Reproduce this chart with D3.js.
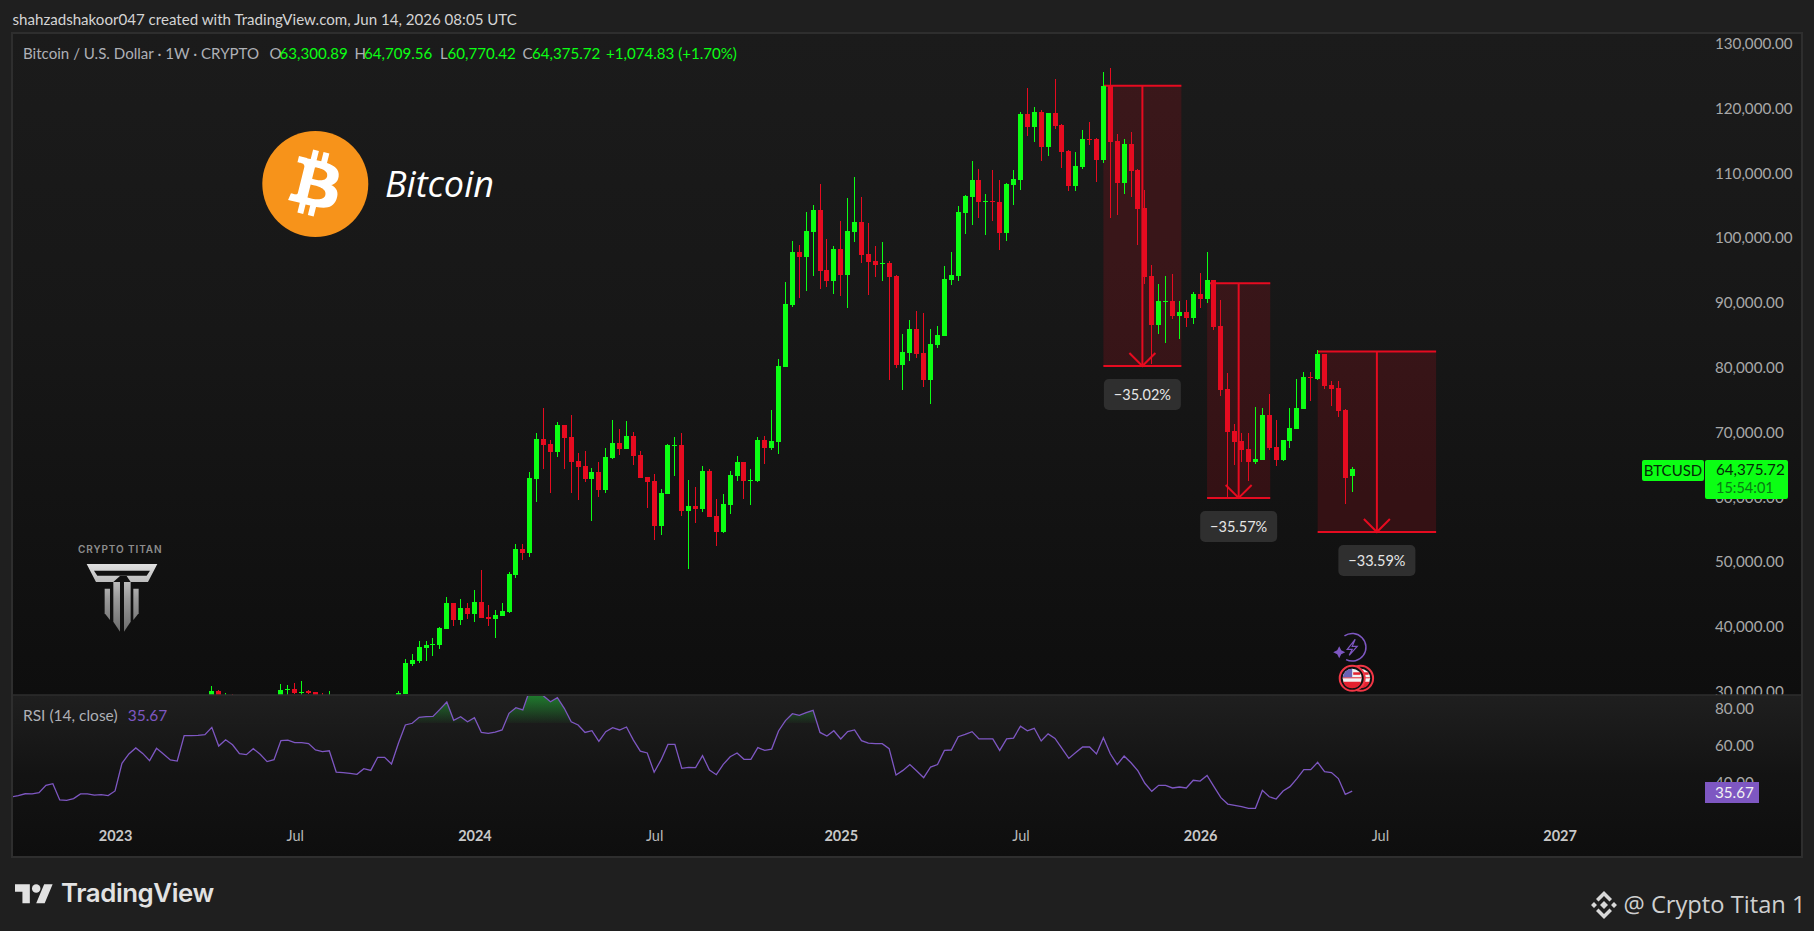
<!DOCTYPE html>
<html>
<head>
<meta charset="utf-8">
<title>BTCUSD weekly</title>
<script src="https://cdn.jsdelivr.net/npm/d3@7"></script>
<style>
  html, body { margin: 0; padding: 0; background: #1f1f1f; }
  svg { display: block; }
  text { font-family: Lato, "Noto Sans", sans-serif; }
</style>
</head>
<body>
<svg id="chart" width="1814" height="931"></svg>
<script>
//DATA ---------------------------------------------------------------------------------
// weekly candles in thousand USD, one entry per week starting at firstCandleWeek
const firstCandleWeek = "2023-04-10";
const opens = [
  28.3,30.1,27.6,28.4,28.0,26.9,27.1,26.8,27.2,25.9,
  26.3,30.3,30.4,29.9,30.1,29.9,29.3,29.0,29.3,26.1,26.1,25.9,25.8,26.5,26.5,26.3,27.9,27.1,
  29.7,34.3,34.7,36.7,37.2,37.2,39.7,43.7,41.1,42.9,
  42.0,43.8,41.5,41.2,41.7,42.3,48.0,52.0,51.4,62.8,
  69.0,68.2,67.0,71.2,69.3,65.6,64.8,62.8,63.9,61.1,
  66.1,68.4,67.5,69.5,66.5,63.1,62.5,55.6,60.5,67.9,
  68.1,57.9,58.7,58.2,64.1,57.1,54.6,58.8,63.3,65.4,
  62.5,62.5,68.8,67.6,68.5,80.1,89.7,97.8,97.1,100.9,
  104.3,95.1,93.4,98.3,94.3,100.9,102.5,97.5,96.5,96.0,
  96.1,94.1,80.4,82.3,86.0,82.3,78.1,83.5,84.9,93.5,
  94.1,103.9,106.3,108.9,105.6,105.7,105.6,100.8,108.2,109.0,
  119.1,117.1,119.5,114.1,119.3,117.4,113.4,108.0,111.0,115.3,
  115.3,112.0,123.5,115.0,108.5,114.5,110.5,104.6,94.2,86.6,
  90.1,90.3,88.0,88.6,87.7,91.4,90.6,93.5,86.4,76.7,
  70.2,68.7,67.4,65.4,65.8,72.7,67.7,65.8,68.7,70.5,
  73.6,78.6,78.2,82.1,77.3,76.9,73.5,63.30
];
const highs = [
  30.9,30.3,29.8,29.6,28.3,27.6,27.5,28.4,27.4,27.1,
  31.2,31.0,31.4,31.7,30.3,29.9,29.8,30.1,29.4,26.8,28.1,26.2,26.8,27.4,27.0,28.6,28.6,30.1,
  35.0,35.8,37.8,37.8,38.3,40.0,44.6,43.7,44.3,43.7,
  45.7,48.8,43.4,42.6,43.7,48.5,52.8,52.8,63.9,69.9,
  73.8,68.8,71.6,71.2,72.7,66.8,67.1,64.5,65.4,67.6,
  71.9,70.5,71.8,70.1,67.1,63.1,63.6,61.3,68.2,69.3,
  69.9,62.7,61.6,64.8,64.4,59.7,60.5,64.1,66.4,65.4,
  64.4,69.3,69.5,73.5,81.3,93.2,99.5,98.9,104.0,105.1,
  108.3,99.9,98.8,102.6,106.2,109.4,106.3,102.3,98.8,99.4,
  96.5,94.3,85.2,87.4,88.7,88.4,86.0,86.4,95.7,97.8,
  104.9,106.6,111.9,110.7,106.8,110.5,108.9,108.5,110.5,119.5,
  123.2,120.2,119.8,119.3,124.5,117.6,113.6,113.3,116.7,117.9,
  115.4,125.6,126.2,116.1,115.3,116.4,110.7,107.4,95.8,92.9,
  94.2,94.5,90.3,90.4,91.7,94.6,97.9,93.5,90.4,79.2,
  71.3,69.9,69.9,73.9,73.8,75.9,71.9,68.8,73.8,78.2,
  79.3,79.3,82.7,82.1,77.9,77.9,73.6,64.71
];
const lows = [
  27.8,27.1,27.0,27.7,26.0,26.3,25.9,26.6,25.4,24.8,
  26.3,29.4,29.65,29.4,29.6,29.0,28.6,28.9,25.2,25.8,25.4,25.4,25.1,26.4,26.0,26.0,26.6,26.9,
  29.7,34.0,34.5,34.7,35.5,36.6,39.7,40.1,40.3,41.2,
  40.8,41.4,40.1,38.3,41.7,42.1,47.5,50.3,50.8,59.3,
  64.4,60.7,66.2,64.4,60.7,59.6,62.4,56.3,60.0,60.7,
  65.9,66.5,67.5,65.0,63.0,58.3,53.4,54.2,60.5,63.3,
  57.1,48.9,56.0,57.7,57.0,52.5,54.5,57.4,62.5,59.7,
  58.8,62.4,65.1,67.3,66.7,80.1,89.4,90.7,91.8,94.1,
  92.1,92.4,91.4,91.1,89.2,99.4,96.1,91.2,94.0,93.4,
  78.1,80.0,76.5,81.0,81.5,77.0,74.4,83.0,84.9,92.8,
  93.4,100.6,102.0,103.1,100.5,102.6,98.2,99.5,105.1,107.4,
  115.8,114.8,111.9,112.7,116.8,110.8,107.3,107.3,110.7,114.4,
  108.7,111.6,103.1,103.6,106.8,106.3,98.9,92.9,80.6,85.2,
  83.8,87.5,84.4,86.3,86.7,89.2,90.0,85.8,75.6,60.0,
  65.0,65.4,62.5,65.1,65.8,67.3,64.8,65.6,67.6,70.5,
  73.6,74.9,78.1,76.7,74.1,72.4,59.0,60.77
];
const closes = [
  30.1,27.6,28.4,28.0,26.9,27.1,26.8,27.2,25.9,26.3,
  30.3,30.4,29.8,30.0,29.8,29.2,29.2,29.3,26.1,26.1,25.9,25.8,26.5,26.5,26.3,27.9,27.1,29.8,
  34.4,34.9,36.9,37.2,37.3,39.8,43.7,41.1,42.9,42.0,
  43.8,41.4,41.2,41.8,42.5,48.2,52.0,51.4,63.0,69.0,
  68.1,67.0,71.2,69.1,65.4,64.7,62.8,63.9,61.1,66.2,
  68.4,67.5,69.5,66.4,63.0,62.4,55.6,60.7,68.1,68.1,
  57.9,58.7,58.2,64.1,57.0,54.6,59.0,63.4,65.4,62.5,
  62.7,68.8,67.6,68.7,80.3,89.8,97.8,97.1,101.1,104.3,
  94.9,93.4,98.3,94.3,101.1,102.5,97.4,96.3,95.8,96.1,
  94.0,80.4,82.4,86.0,82.1,78.1,83.6,85.0,93.7,94.3,
  104.0,106.5,109.0,105.6,105.7,105.5,100.8,108.3,109.1,119.1,
  117.1,119.5,114.1,119.3,117.3,113.3,108.0,111.1,115.3,115.1,
  112.1,123.5,114.8,108.5,114.5,110.4,104.5,94.0,86.6,90.3,
  90.3,88.0,88.6,87.7,91.4,90.6,93.5,86.3,76.5,70.1,
  68.5,67.3,65.4,65.9,72.7,67.6,65.8,68.8,70.7,73.8,
  78.6,78.4,82.1,77.2,76.7,73.3,63.0,64.38
];

// RSI (14, close), one entry per week starting at firstRsiWeek
const firstRsiWeek = "2022-09-19";
const rsiValues = [
  32.6,33.3,34.3,34.2,34.9,38.8,39.7,31.0,30.8,31.7,34.2,34.2,33.6,33.8,33.3,35.8,
  50.6,55.6,58.8,55.9,52.0,58.6,55.6,52.4,51.8,65.4,65.4,65.5,65.9,69.8,59.8,63.2,
  60.5,55.7,55.2,58.4,55.4,51.5,52.5,62.7,63.0,61.6,61.6,61.1,57.7,56.8,57.3,45.9,
  45.6,45.2,44.7,47.7,46.8,53.8,53.8,50.2,61.3,71.1,72.0,75.2,75.5,75.7,79.4,83.4,
  73.6,75.5,72.8,75.0,67.1,66.6,67.3,68.4,77.3,80.3,79.1,89.8,88.9,86.6,83.5,85.7,
  80.0,72.8,71.1,67.1,68.0,62.3,67.5,69.6,68.4,70.0,63.0,57.1,56.1,45.8,52.4,60.7,
  60.7,47.9,48.4,48.3,54.7,47.0,44.5,50.0,54.1,56.1,52.7,52.7,59.0,57.5,58.2,67.9,
  73.4,77.1,76.2,77.7,78.9,67.1,65.2,68.0,63.6,67.5,68.4,62.7,61.4,61.1,61.1,58.4,
  44.3,46.8,49.9,46.5,42.9,48.6,49.9,57.5,57.7,64.8,66.1,67.5,63.6,63.6,63.6,57.5,
  63.6,64.1,70.4,68.0,69.3,62.5,66.3,63.9,58.6,53.2,56.3,59.3,59.3,55.6,64.3,55.7,
  49.9,54.5,50.9,46.5,39.9,35.6,38.8,38.8,37.4,37.9,37.4,41.5,41.1,44.1,38.1,32.2,
  28.8,28.1,27.4,26.5,26.5,36.1,32.7,31.5,35.8,38.1,42.4,47.2,47.2,51.1,46.1,45.6,
  42.4,34.0,35.67
];

const priceTicks = [30, 40, 50, 60, 70, 80, 90, 100, 110, 120, 130];
const rsiTicks = [40, 60, 80];
const rsiOverbought = 72;
const timeTickDates = ["2023-01-02", "2023-07-03", "2024-01-01", "2024-07-01", "2025-01-06", "2025-07-07", "2026-01-05", "2026-07-06", "2027-01-04"];
const timeTickLabels = ["2023", "Jul", "2024", "Jul", "2025", "Jul", "2026", "Jul", "2027"];

// the three drop measurements drawn on the chart
const dropStarts = ["2025-09-29", "2026-01-12", "2026-05-04"];
const dropEnds = ["2025-12-17", "2026-03-17", "2026-09-01"];
const dropTops = [123.5, 93.05, 82.5];
const dropBottoms = [80.25, 59.9, 54.65];
const dropLabels = ["−35.02%", "−35.57%", "−33.59%"];

const legendParts = [
  { x: 23, text: "Bitcoin / U.S. Dollar · 1W · CRYPTO", color: "#aeb0b6" },
  { x: 269.5, text: "O", color: "#aeb0b6" }, { x: 279.5, text: "63,300.89", color: "#0bff14" },
  { x: 354.5, text: "H", color: "#aeb0b6" }, { x: 364, text: "64,709.56", color: "#0bff14" },
  { x: 440, text: "L", color: "#aeb0b6" }, { x: 447.5, text: "60,770.42", color: "#0bff14" },
  { x: 522.5, text: "C", color: "#aeb0b6" }, { x: 532, text: "64,375.72", color: "#0bff14" },
  { x: 606, text: "+1,074.83 (+1.70%)", color: "#0bff14" }
];

//SET UP -------------------------------------------------------------------------------
const GREEN = "#0bff14";
const RED = "#e60b20";
const PURPLE = "#7e57c2";

const frame = { left: 13, right: 1801, top: 34, split: 695, bottom: 856 };
const svg = d3.select("#chart");
const defs = svg.append("defs");

const weekDates = (first, n) => d3.range(n).map(i => d3.utcDay.offset(new Date(first), i * 7));
const candleDates = weekDates(firstCandleWeek, closes.length);
const rsiDates = weekDates(firstRsiWeek, rsiValues.length);

const xScale = d3.scaleUtc()
  .domain([new Date("2023-10-23"), new Date("2026-06-08")])
  .range([405.33, 1352.2]);
const yScale = d3.scaleLinear().domain([30, 130]).range([691.7, 43.7]);
const rsiScale = d3.scaleLinear().domain([40, 80]).range([783.1, 708.3]);

function gradient(id, stops, y1, y2) {
  const g = defs.append("linearGradient").attr("id", id)
    .attr("gradientUnits", "userSpaceOnUse")
    .attr("x1", 0).attr("x2", 0).attr("y1", y1).attr("y2", y2);
  stops.forEach(s => g.append("stop").attr("offset", s[0]).attr("stop-color", s[1]).attr("stop-opacity", s[2] === undefined ? 1 : s[2]));
}
function clip(id, x, y, w, h) {
  defs.append("clipPath").attr("id", id).append("rect").attr("x", x).attr("y", y).attr("width", w).attr("height", h);
}
function label(parent, x, y, text, color, size, extra) {
  const t = parent.append("text").attr("x", x).attr("y", y).attr("dy", "0.35em")
    .attr("fill", color).attr("font-size", size).text(text);
  if (extra) Object.keys(extra).forEach(k => t.attr(k, extra[k]));
  return t;
}

gradient("mainBg", [[0, "#1b1b1b"], [0.45, "#171717"], [1, "#0e0e0e"]], frame.top, frame.split);
gradient("rsiBg", [[0, "#1f1f1f"], [0.5, "#131313"], [1, "#0e0e0e"]], frame.split, frame.bottom);
gradient("rsiGreen", [[0, "#1fae35", 0.65], [1, "#1fae35", 0.04]], frame.split, rsiScale(rsiOverbought));
gradient("steel", [[0, "#e2e2e2"], [0.5, "#9a9a9a"], [1, "#6a6a6a"]], 130, 340);

clip("mainClip", frame.left, frame.top, frame.right - frame.left, frame.split - frame.top);
clip("rsiClip", frame.left, frame.split + 1, frame.right - frame.left, frame.bottom - frame.split - 1);
clip("rsiOverClip", frame.left, frame.split + 1, frame.right - frame.left, rsiScale(rsiOverbought) - frame.split - 1);

//PANES --------------------------------------------------------------------------------
svg.append("rect").attr("x", frame.left).attr("y", frame.top)
  .attr("width", frame.right - frame.left).attr("height", frame.split - frame.top).attr("fill", "url(#mainBg)");
svg.append("rect").attr("x", frame.left).attr("y", frame.split)
  .attr("width", frame.right - frame.left).attr("height", frame.bottom - frame.split).attr("fill", "url(#rsiBg)");

label(svg, 12.5, 19.5, "shahzadshakoor047 created with TradingView.com, Jun 14, 2026 08:05 UTC", "#d4d4d4", 15.1);

//DROP BOXES ---------------------------------------------------------------------------
const main = svg.append("g").attr("clip-path", "url(#mainClip)");
dropStarts.forEach((start, i) => {
  const x0 = xScale(new Date(start));
  const x1 = xScale(new Date(dropEnds[i]));
  const top = yScale(dropTops[i]);
  const bottom = yScale(dropBottoms[i]);
  const mid = (x0 + x1) / 2;
  const g = main.append("g").attr("stroke", RED);
  g.append("rect").attr("x", x0).attr("y", top).attr("width", x1 - x0).attr("height", bottom - top)
    .attr("fill", RED).attr("fill-opacity", 0.16).attr("stroke", "none");
  [top, bottom].forEach(y => g.append("line").attr("x1", x0).attr("x2", x1).attr("y1", y).attr("y2", y).attr("stroke-width", 2));
  g.append("line").attr("x1", mid).attr("x2", mid).attr("y1", top).attr("y2", bottom).attr("stroke-width", 2);
  g.append("path").attr("d", `M${mid - 13},${bottom - 13} L${mid},${bottom} L${mid + 13},${bottom - 13}`)
    .attr("fill", "none").attr("stroke-width", 2);
});

//CANDLES ------------------------------------------------------------------------------
const candles = main.append("g").attr("shape-rendering", "crispEdges");
candleDates.forEach((date, i) => {
  const up = closes[i] >= opens[i];
  const color = up ? GREEN : RED;
  const cx = Math.round(xScale(date) - 0.5);
  candles.append("rect").attr("x", cx).attr("width", 1)
    .attr("y", yScale(highs[i])).attr("height", yScale(lows[i]) - yScale(highs[i])).attr("fill", color);
  const bodyTop = yScale(Math.max(opens[i], closes[i]));
  const bodyBottom = yScale(Math.min(opens[i], closes[i]));
  candles.append("rect").attr("x", cx - 2).attr("width", 5)
    .attr("y", bodyTop).attr("height", Math.max(1, bodyBottom - bodyTop)).attr("fill", color);
});

// percentage labels sit below the boxes
dropLabels.forEach((text, i) => {
  const mid = (xScale(new Date(dropStarts[i])) + xScale(new Date(dropEnds[i]))) / 2;
  const y = yScale(dropBottoms[i]) + 13;
  svg.append("rect").attr("x", mid - 38.5).attr("y", y).attr("width", 77).attr("height", 31).attr("rx", 5).attr("fill", "#2f2f2f");
  label(svg, mid, y + 15.5, text, "#e6e6e6", 14.5, { "text-anchor": "middle" });
});

//RSI ----------------------------------------------------------------------------------
const rsiLine = d3.line().x((d, i) => xScale(rsiDates[i])).y(d => rsiScale(d));
const rsiArea = d3.area().x((d, i) => xScale(rsiDates[i])).y0(rsiScale(rsiOverbought)).y1(d => rsiScale(d));
svg.append("path").datum(rsiValues).attr("d", rsiArea)
  .attr("fill", "url(#rsiGreen)").attr("clip-path", "url(#rsiOverClip)");
svg.append("path").datum(rsiValues).attr("d", rsiLine)
  .attr("fill", "none").attr("stroke", PURPLE).attr("stroke-width", 1.3).attr("clip-path", "url(#rsiClip)");

label(svg, 23, 715.7, "RSI (14, close)", "#aeb0b6", 15.5);
label(svg, 127.7, 715.7, "35.67", PURPLE, 15.5);

//AXES ---------------------------------------------------------------------------------
const priceAxis = d3.axisRight(yScale).tickValues(priceTicks).tickSize(0).tickPadding(0)
  .tickFormat(d => d3.format(",.2f")(d * 1000));
const priceGroup = svg.append("g").attr("clip-path", "url(#mainClip)").append("g")
  .attr("transform", "translate(1715,0)").call(priceAxis);
const rsiAxis = d3.axisRight(rsiScale).tickValues(rsiTicks).tickSize(0).tickPadding(0).tickFormat(d3.format(".2f"));
const rsiGroup = svg.append("g").attr("transform", "translate(1715,0)").call(rsiAxis);
const timeAxis = d3.axisBottom(xScale).tickValues(timeTickDates.map(d => new Date(d))).tickSize(0).tickPadding(0)
  .tickFormat((d, i) => timeTickLabels[i]);
const timeGroup = svg.append("g").attr("transform", "translate(0,831)").call(timeAxis);

[priceGroup, rsiGroup, timeGroup].forEach(g => {
  g.select(".domain").remove();
  g.selectAll("text").attr("fill", "#a8a8a8").style("font-size", "15.2px").style("font-family", "Lato, sans-serif");
});
timeGroup.selectAll("text")
  .attr("fill", (d, i) => timeTickLabels[i] === "Jul" ? "#b8b8b8" : "#c8c8c8")
  .style("font-size", "14.5px")
  .style("font-weight", (d, i) => timeTickLabels[i] === "Jul" ? 400 : 700);

//PRICE AND RSI TAGS -------------------------------------------------------------------
svg.append("rect").attr("x", 1642).attr("y", 460).attr("width", 62).attr("height", 21).attr("rx", 2).attr("fill", GREEN);
label(svg, 1673, 470.5, "BTCUSD", "#062a08", 15, { "text-anchor": "middle" });
svg.append("rect").attr("x", 1705).attr("y", 460).attr("width", 83).attr("height", 39).attr("rx", 2).attr("fill", GREEN);
label(svg, 1716, 470, "64,375.72", "#062a08", 15.2);
label(svg, 1716, 488, "15:54:01", "#0a7a14", 14.5);
svg.append("rect").attr("x", 1705).attr("y", 782).attr("width", 54).attr("height", 21).attr("fill", PURPLE);
label(svg, 1715, 792.5, "35.67", "#f2f2f2", 15.2);

//FRAME --------------------------------------------------------------------------------
svg.append("rect").attr("x", frame.left - 1).attr("y", frame.top - 1)
  .attr("width", frame.right - frame.left + 2).attr("height", frame.bottom - frame.top + 2)
  .attr("fill", "none").attr("stroke", "#2e2e2e").attr("stroke-width", 2);
svg.append("line").attr("x1", frame.left).attr("x2", frame.right).attr("y1", frame.split).attr("y2", frame.split)
  .attr("stroke", "#2e2e2e").attr("stroke-width", 1.5);

//LEGEND -------------------------------------------------------------------------------
legendParts.forEach(p => label(svg, p.x, 54, p.text, p.color, 15.1));

//BITCOIN LOGO -------------------------------------------------------------------------
svg.append("circle").attr("cx", 315.3).attr("cy", 184).attr("r", 53).attr("fill", "#f7931a");
svg.append("path")
  .attr("transform", "translate(262.3,131) scale(1.656)")
  .attr("fill", "#fff")
  .attr("d", "M46.1 27.441c.638-4.258-2.605-6.547-7.038-8.074l1.438-5.768-3.51-.875-1.4 5.616c-.923-.23-1.87-.447-2.813-.662l1.41-5.653-3.509-.875-1.439 5.766c-.764-.174-1.514-.346-2.242-.527l.004-.018-4.842-1.209-.934 3.75s2.605.597 2.55.634c1.422.355 1.68 1.296 1.636 2.042l-1.638 6.571c.098.025.225.061.365.117l-.37-.092-2.297 9.205c-.174.432-.615 1.08-1.609.834.035.051-2.552-.637-2.552-.637l-1.743 4.019 4.569 1.139c.85.213 1.683.436 2.503.646l-1.453 5.834 3.507.875 1.439-5.772c.958.26 1.888.5 2.798.726l-1.434 5.745 3.511.875 1.453-5.823c5.987 1.133 10.489.676 12.384-4.739 1.527-4.36-.076-6.875-3.226-8.515 2.294-.529 4.022-2.038 4.483-5.155zM38.08 38.69c-1.085 4.36-8.426 2.003-10.806 1.412l1.928-7.729c2.38.594 10.012 1.77 8.878 6.317zm1.086-11.312c-.99 3.966-7.1 1.951-9.082 1.457l1.748-7.01c1.982.494 8.365 1.416 7.334 5.553z");
svg.append("text").attr("x", 385).attr("y", 197).attr("fill", "#fff").attr("font-size", 36)
  .attr("font-style", "italic").style("font-family", "'Open Sans', sans-serif").text("Bitcoin");

//CRYPTO TITAN LOGO --------------------------------------------------------------------
svg.append("text").attr("x", 78).attr("y", 553).attr("fill", "#8d8d8d").attr("font-size", 10)
  .attr("letter-spacing", 0.9).attr("font-weight", 600).style("font-family", "Inter, sans-serif").text("CRYPTO TITAN");
const titan = svg.append("g").attr("transform", "translate(20,520) scale(0.3333)").attr("fill", "url(#steel)");
titan.append("path").attr("fill-rule", "evenodd")
  .attr("d", "M200 132 L412 132 L384 186 L332 186 L320 168 L300 168 L280 186 L228 186 Z M222 152 L232 167 L380 167 L390 152 Z");
titan.append("path").attr("d", "M280 186 L300 186 L300 335 L280 305 Z");
titan.append("path").attr("d", "M312 186 L332 186 L332 305 L312 335 Z");
titan.append("path").attr("d", "M254 206 L270 206 L270 300 L254 280 Z");
titan.append("path").attr("d", "M340 206 L356 206 L356 280 L340 300 Z");

//EVENT ICONS --------------------------------------------------------------------------
const eventX = xScale(candleDates[candleDates.length - 1]);
const boltIcon = svg.append("g").attr("transform", `translate(${eventX},647.3)`);
boltIcon.append("path").attr("d", d3.arc()({ innerRadius: 13, outerRadius: 14.5, startAngle: -0.6, endAngle: 3.6 })).attr("fill", PURPLE);
boltIcon.append("path").attr("d", "M3 -8 L-5 2 L0 2 L-3 8 L5 -1 L0 -1 Z").attr("fill", "none").attr("stroke", PURPLE).attr("stroke-width", 1.2);
boltIcon.append("path").attr("d", "M-13 -1 L-11 3 L-7 5 L-11 7 L-13 11 L-15 7 L-19 5 L-15 3 Z").attr("fill", PURPLE);

[8.4, 0].forEach(dx => {
  const flag = svg.append("g").attr("transform", `translate(${eventX + dx},678.3)`);
  flag.append("circle").attr("r", 12.5).attr("fill", "#111").attr("stroke", "#f23645").attr("stroke-width", 2);
  flag.append("circle").attr("r", 9.5).attr("fill", "#f2f2f2");
  flag.append("path").attr("d", "M-9 3.5 A9.5 9.5 0 0 0 9 3.5 Z").attr("fill", "#e3222f");
  flag.append("path").attr("d", "M-9.5 -1 L9.5 -1 L9.5 0 L-9.5 0 Z").attr("fill", "#e3222f");
  flag.append("path").attr("d", "M0 -9.5 A9.5 9.5 0 0 0 -9.5 -1 L0 -1 Z").attr("fill", "#6a63b5");
  flag.append("rect").attr("x", 1).attr("y", -6).attr("width", 7).attr("height", 2.5).attr("fill", "#e3222f");
});

//FOOTER -------------------------------------------------------------------------------
const tvLogo = svg.append("g").attr("transform", "translate(15,880) scale(1.06)").attr("fill", "#e2e2e2");
tvLogo.append("path").attr("d", "M14 22H7V11H0V4h14v18zM28 22h-8l7.5-18h8L28 22z");
tvLogo.append("circle").attr("cx", 20).attr("cy", 8).attr("r", 4);
svg.append("text").attr("x", 61).attr("y", 902).attr("fill", "#e2e2e2").attr("font-size", 25.8)
  .attr("font-weight", 600).style("font-family", "Inter, sans-serif").attr("letter-spacing", -0.4).text("TradingView");

const binance = svg.append("g").attr("transform", "translate(1604,905)").attr("fill", "#d8d8d8");
binance.append("path").attr("d", "M0 -4 L4 0 L0 4 L-4 0 Z M-10 -3 L-7 0 L-10 3 L-13 0 Z M10 -3 L13 0 L10 3 L7 0 Z");
binance.append("path").attr("d", "M0 -14 L8 -6 L5.5 -3.5 L0 -9 L-5.5 -3.5 L-8 -6 Z M0 14 L8 6 L5.5 3.5 L0 9 L-5.5 3.5 L-8 6 Z");
svg.append("text").attr("x", 1623.5).attr("y", 913).attr("fill", "#cfcfcf").attr("font-size", 23.7)
  .style("font-family", "'Open Sans', sans-serif").text("@ Crypto Titan 1");
</script>
</body>
</html>
